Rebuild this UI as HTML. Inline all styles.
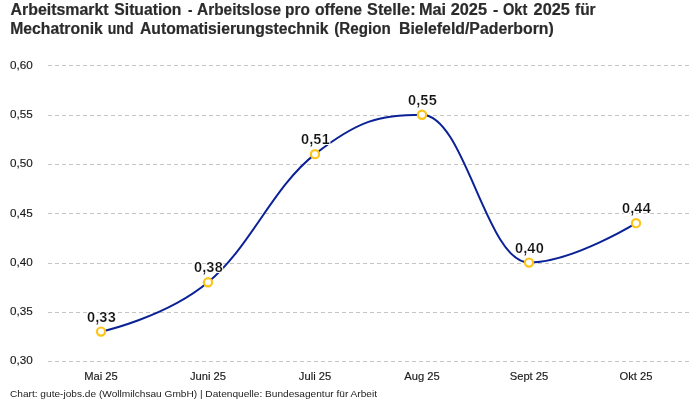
<!DOCTYPE html>
<html><head><meta charset="utf-8"><style>
html,body{margin:0;padding:0;background:#fff;}
body{width:700px;height:400px;overflow:hidden;position:relative;font-family:"Liberation Sans", sans-serif;}
svg{position:absolute;left:0;top:0;will-change:transform;}
.g{stroke:#c5c5c5;stroke-width:1;stroke-dasharray:4 3;}
.yt{font-size:11.7px;fill:#1a1a1a;stroke:#1a1a1a;stroke-width:0.15px;}
.xt{font-size:11.2px;fill:#1a1a1a;stroke:#1a1a1a;stroke-width:0.15px;text-anchor:middle;}
.ln{fill:none;stroke:#0b2297;stroke-width:2;stroke-linejoin:round;stroke-linecap:round;}
.mk{fill:#fff;stroke:#fdc418;stroke-width:2.2;}
.dl{font-size:14.5px;letter-spacing:0.2px;font-weight:bold;fill:#111;text-anchor:middle;stroke:#fff;stroke-width:2px;stroke-linejoin:round;paint-order:stroke fill;}
.er{fill:none;stroke:#fff;stroke-width:0.2px;paint-order:normal;}
.t{font-size:16px;font-weight:bold;fill:#2b2b2b;stroke:#2b2b2b;stroke-width:0.2px;}
.f{font-size:9.8px;fill:#222;}
</style></head><body>
<svg width="700" height="400" viewBox="0 0 700 400">
<text x="10.50" y="15" class="t" textLength="98.13" lengthAdjust="spacingAndGlyphs">Arbeitsmarkt</text>
<text x="114.30" y="15" class="t" textLength="67.16" lengthAdjust="spacingAndGlyphs">Situation</text>
<text x="187.90" y="15" class="t" textLength="4.48" lengthAdjust="spacingAndGlyphs">-</text>
<text x="197.10" y="15" class="t" textLength="83.90" lengthAdjust="spacingAndGlyphs">Arbeitslose</text>
<text x="285.04" y="15" class="t" textLength="24.74" lengthAdjust="spacingAndGlyphs">pro</text>
<text x="315.00" y="15" class="t" textLength="47.00" lengthAdjust="spacingAndGlyphs">offene</text>
<text x="367.10" y="15" class="t" textLength="48.54" lengthAdjust="spacingAndGlyphs">Stelle:</text>
<text x="418.98" y="15" class="t" textLength="27.17" lengthAdjust="spacingAndGlyphs">Mai</text>
<text x="450.70" y="15" class="t" textLength="36.30" lengthAdjust="spacingAndGlyphs">2025</text>
<text x="492.90" y="15" class="t" textLength="5.33" lengthAdjust="spacingAndGlyphs">-</text>
<text x="502.90" y="15" class="t" textLength="24.39" lengthAdjust="spacingAndGlyphs">Okt</text>
<text x="533.60" y="15" class="t" textLength="36.30" lengthAdjust="spacingAndGlyphs">2025</text>
<text x="575.00" y="15" class="t" textLength="20.62" lengthAdjust="spacingAndGlyphs">für</text>
<text x="10.22" y="34" class="t" textLength="92.58" lengthAdjust="spacingAndGlyphs">Mechatronik</text>
<text x="107.72" y="34" class="t" textLength="25.86" lengthAdjust="spacingAndGlyphs">und</text>
<text x="140.00" y="34" class="t" textLength="188.50" lengthAdjust="spacingAndGlyphs">Automatisierungstechnik</text>
<text x="334.30" y="34" class="t" textLength="56.43" lengthAdjust="spacingAndGlyphs">(Region</text>
<text x="399.01" y="34" class="t" textLength="154.81" lengthAdjust="spacingAndGlyphs">Bielefeld/Paderborn)</text>
<line x1="48" y1="65.5" x2="690" y2="65.5" class="g"/>
<line x1="48" y1="115.5" x2="690" y2="115.5" class="g"/>
<line x1="48" y1="164.5" x2="690" y2="164.5" class="g"/>
<line x1="48" y1="213.5" x2="690" y2="213.5" class="g"/>
<line x1="48" y1="263.5" x2="690" y2="263.5" class="g"/>
<line x1="48" y1="312.5" x2="690" y2="312.5" class="g"/>
<line x1="48" y1="361.5" x2="690" y2="361.5" class="g"/>
<text x="10" y="69.0" class="yt">0,60</text>
<text x="10" y="118.0" class="yt">0,55</text>
<text x="10" y="167.0" class="yt">0,50</text>
<text x="10" y="217.0" class="yt">0,45</text>
<text x="10" y="266.0" class="yt">0,40</text>
<text x="10" y="315.0" class="yt">0,35</text>
<text x="10" y="364.0" class="yt">0,30</text>
<text x="101.00" y="380" class="xt">Mai 25</text>
<text x="208.00" y="380" class="xt">Juni 25</text>
<text x="315.00" y="380" class="xt">Juli 25</text>
<text x="422.00" y="380" class="xt">Aug 25</text>
<text x="529.00" y="380" class="xt">Sept 25</text>
<text x="636.00" y="380" class="xt">Okt 25</text>
<path d="M101.00,331.62 C101.00,331.62 165.20,317.82 208.00,282.32 C250.80,246.82 272.20,187.66 315.00,154.14 C357.80,120.62 379.20,114.70 422.00,114.70 C464.80,114.70 486.20,262.60 529.00,262.60 C571.80,262.60 636.00,223.16 636.00,223.16" class="ln"/>
<circle cx="101.00" cy="331.62" r="4.1" class="mk"/>
<circle cx="208.00" cy="282.32" r="4.1" class="mk"/>
<circle cx="315.00" cy="154.14" r="4.1" class="mk"/>
<circle cx="422.00" cy="114.70" r="4.1" class="mk"/>
<circle cx="529.00" cy="262.60" r="4.1" class="mk"/>
<circle cx="636.00" cy="223.16" r="4.1" class="mk"/>
<text x="101.40" y="321.62" class="dl">0,33</text>
<text x="101.40" y="321.62" class="dl er">0,33</text>
<text x="208.40" y="272.32" class="dl">0,38</text>
<text x="208.40" y="272.32" class="dl er">0,38</text>
<text x="315.40" y="144.14" class="dl">0,51</text>
<text x="315.40" y="144.14" class="dl er">0,51</text>
<text x="422.40" y="104.70" class="dl">0,55</text>
<text x="422.40" y="104.70" class="dl er">0,55</text>
<text x="529.40" y="252.60" class="dl">0,40</text>
<text x="529.40" y="252.60" class="dl er">0,40</text>
<text x="636.40" y="213.16" class="dl">0,44</text>
<text x="636.40" y="213.16" class="dl er">0,44</text>
<text x="10" y="397" class="f" textLength="367" lengthAdjust="spacingAndGlyphs">Chart: gute-jobs.de (Wollmilchsau GmbH) | Datenquelle: Bundesagentur für Arbeit</text>
</svg>
</body></html>
